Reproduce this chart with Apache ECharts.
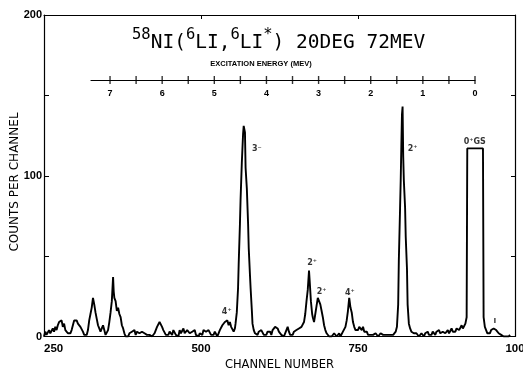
<!DOCTYPE html>
<html><head><meta charset="utf-8">
<script src="https://cdn.jsdelivr.net/npm/echarts@6/dist/echarts.min.js"></script>
<style>html,body{margin:0;padding:0;background:#fff}#c{width:523px;height:369px}</style>
</head><body><div id="c"></div><script>
// 58Ni(6Li,6Li*) spectrum: [channel, counts per channel]
const lowChannels = [
  [250,0],[252,3],[254,1],[256,2],[258,4],[260,2],[262,3],[264,5],[266,3],[268,6],[270,4],[272,7],[274,9],
  [276,8],[278,10],[280,6],[282,8],[284,4],[286,3],[288,2],[290,3],[292,2],[294,4],[296,7],[298,10],[300,11],
  [302,10],[304,8],[306,9],[308,6],[310,5],[312,3],[314,1],[316,0],[318,1],[320,4],[322,10],[324,14],[326,18],
  [328,24],[330,20],[332,15],[334,11],[336,7],[338,5],[340,3],[342,5],[344,7],[346,4],[348,1],[350,0],[352,4],
  [354,9],[356,15],[358,22],[360,37],[361,28],[362,24],[364,22],[366,16],[368,18],[370,14],[372,12],[374,7],
  [376,5],[378,2],[380,0],[382,1],[384,0],[386,2],[388,1],[390,3],[392,2],[394,4],[396,1],[398,3],[400,4],
  [402,2],[404,1],[406,3],[408,4],[410,2],[412,3],[414,1],[416,0],[418,1],[420,2],[422,0],[424,1],[426,2],
  [428,4],[430,6],[432,7],[434,9],[436,8],[438,6],[440,4],[442,3],[444,1],[446,0],[448,1],[450,3],[452,2],
  [454,1],[456,4],[458,3],[460,1],[462,2],[464,0],[466,4],[468,2],[470,3],[472,5],[474,2],[476,1],[478,4],
  [480,3],[482,2],[484,1],[486,3],[488,2],[490,4],[492,1],[494,2],[496,0],[498,2],[500,3],[502,1],[504,4],
  [506,5],[508,3],[510,2],[512,4],[514,3],[516,1],[518,2],[520,1],[522,3],[524,2],[526,0],[528,2],[530,4],
  [532,3],[534,7],[536,6],[538,9],[540,8],[542,10],[544,7],[546,9],[548,6],[550,5],[552,3],[554,5]
];
const peak3minus = [
  [555,8],[557,15],[559,30],[560,45],[562,70],[563,85],[565,108],[567,126],[568,131],[570,127],[571,105],
  [573,92],[575,70],[576,55],[578,38],[579,30],[581,16],[582,8],[584,4]
];
const midChannels = [
  [586,2],[588,3],[590,1],[592,3],[594,2],[596,4],[598,3],[600,1],[602,2],[604,1],[606,3],[608,2],[610,3],
  [612,1],[614,4],[616,5],[618,6],[620,7],[622,5],[624,3],[626,2],[628,1],[630,2],[632,0],[634,2],[636,4],
  [638,6],[640,3],[642,1],[644,2],[646,1],[648,3],[650,2],[652,4],[654,3],[656,5],[658,4],[660,6],[662,5],
  [664,9],[666,14],[668,22],[670,29],[672,41],[673,35],[675,22],[677,14],[678,12],[680,9],[682,14],[684,19],
  [686,24],[688,23],[690,20],[692,16],[694,12],[696,7],[698,4],[700,2],[702,1],[704,0],[706,1],[708,0],
  [710,1],[712,2],[714,1],[716,0],[718,1],[720,2],[722,0],[724,1],[726,3],[728,2],[730,6],[732,10],[734,16],
  [736,24],[737,21],[738,18],[740,15],[742,9],[744,6],[746,4],[748,3],[750,4],[752,6],[754,5],[756,4],
  [758,6],[760,3],[762,2],[764,3],[766,1],[768,0],[770,1],[772,0],[774,1],[776,0],[778,2],[780,1],[782,0],
  [784,1],[786,2],[788,1],[790,1],[792,0],[794,1],[796,0],[798,1],[800,0],[802,1],[804,0],[806,1],[808,2],
  [810,3]
];
const peak2plus = [
  [812,6],[814,20],[815,47],[817,80],[818,97],[819,118],[820,138],[821,143],[822,112],[823,97],[825,80],
  [826,62],[828,42],[829,20],[831,8],[833,5]
];
const highChannels = [
  [835,3],[837,4],[839,2],[841,1],[843,2],[845,1],[847,0],[849,1],[851,2],[853,1],[855,0],[857,2],[859,1],
  [861,3],[863,1],[865,2],[867,1],[869,3],[871,2],[873,1],[875,3],[877,2],[879,4],[881,2],[883,1],[885,3],
  [887,4],[889,2],[891,3],[893,4],[895,2],[897,3],[899,5],[901,3],[903,4],[905,3],[907,5],[909,6],[911,4],
  [913,5],[915,7],[917,5],[919,6],[921,8],[923,12]
];
const groundState = [[924,117],[949,117],[950,12]];
const tailChannels = [
  [952,6],[954,4],[956,2],[958,3],[960,2],[962,4],[964,3],[966,5],[968,6],[970,4],[972,5],[974,2],[976,3],
  [978,1],[980,2],[982,0],[984,1],[986,0],[988,1],[990,0],[992,1]
];

// state labels
const levelChannels = [589, 837, 936, 677, 692, 737, 541, 968];
const levelCounts   = [117, 117, 121, 46, 28, 27, 15, 10];
const levelTexts    = ['3\u207B', '2\u207A', '0\u207AGS', '2\u207A', '2\u207A', '4\u207A', '4\u207A', 'ı'];

// channel axis ticks
const xTickValues = [250, 500, 750, 1000];
const xTickLabels = ['250', '500', '750', '100'];

// excitation energy scale (MeV), tick every 0.5
const energyTicks = [0, 0.5, 1, 1.5, 2, 2.5, 3, 3.5, 4, 4.5, 5, 5.5, 6, 6.5, 7];
const energyMax = 7.365;

const spectrum = [].concat(lowChannels, peak3minus, midChannels, peak2plus, highChannels, groundState, tailChannels);

const black = '#000';
const chart = echarts.init(document.getElementById('c'), null, { renderer: 'canvas' });
chart.setOption({
  animation: false,
  backgroundColor: '#fff',
  title: {
    left: 127, top: 22,
    text: '{sup|58}{big|NI(}{sup|6}{big|LI,}{sup|6}{big|LI}{sup|*}{big|) 20DEG 72MEV}',
    textStyle: {
      fontWeight: 'normal',
      rich: {
        big: { fontFamily: 'DejaVu Sans Mono', fontSize: 19.5, fontWeight: 'normal', color: black, lineHeight: 32 },
        sup: { fontFamily: 'DejaVu Sans Mono', fontSize: 15.5, fontWeight: 'normal', color: black, lineHeight: 14, verticalAlign: 'top' }
      }
    }
  },
  graphic: [
    {
      type: 'text', x: 261, y: 64,
      style: { text: 'EXCITATION ENERGY (MEV)', fontFamily: 'Liberation Sans', fontWeight: 'bold', fontSize: 7.5,
               fill: black, align: 'center', verticalAlign: 'middle' }
    },
    {
      type: 'text', x: 15, y: 182, rotation: Math.PI / 2,
      style: { text: 'COUNTS PER CHANNEL', fontFamily: 'DejaVu Sans', fontSize: 12,
               fill: black, align: 'center', verticalAlign: 'middle' }
    }
  ],
  grid: [
    { left: 44, top: 15, width: 471, height: 321.5, outerBoundsMode: 'none', containLabel: false },
    { left: 91, top: 70, width: 384, height: 10, outerBoundsMode: 'none', containLabel: false }
  ],
  xAxis: [
    {
      gridIndex: 0, type: 'value', position: 'bottom', min: 250, max: 1000, interval: 250,
      axisLine: { onZero: false, lineStyle: { color: black, width: 1 } },
      axisTick: { show: false }, splitLine: { show: false },
      axisLabel: {
        formatter: v => { const i = xTickValues.indexOf(v); return i < 0 ? '' : xTickLabels[i]; },
        fontFamily: 'Liberation Sans', fontWeight: 'bold', fontSize: 11.5, color: black, margin: 6,
        alignMinLabel: 'left'
      },
      name: 'CHANNEL NUMBER', nameLocation: 'middle', nameGap: 20,
      nameTextStyle: { fontFamily: 'DejaVu Sans', fontSize: 11.5, color: black }
    },
    {
      gridIndex: 0, type: 'value', position: 'top', min: 250, max: 1000, interval: 250,
      axisLine: { onZero: false, lineStyle: { color: black, width: 1 } },
      axisTick: { inside: true, length: 4, lineStyle: { color: black } },
      axisLabel: { show: false }, splitLine: { show: false }
    },
    {
      gridIndex: 1, type: 'value', position: 'bottom', min: 0, max: energyMax, interval: 0.5, inverse: true,
      axisLine: { onZero: false, lineStyle: { color: black, width: 1.2 } },
      axisTick: { show: false }, splitLine: { show: false },
      axisLabel: {
        formatter: v => Number.isInteger(v) ? String(v) : '',
        fontFamily: 'Liberation Sans', fontWeight: 'bold', fontSize: 9, color: black, margin: 9
      }
    }
  ],
  yAxis: [
    {
      gridIndex: 0, type: 'value', position: 'left', min: 0, max: 200, interval: 50,
      axisLine: { onZero: false, lineStyle: { color: black, width: 1.2 } },
      axisTick: { inside: true, length: 5, lineStyle: { color: black } },
      splitLine: { show: false },
      axisLabel: {
        formatter: v => (v % 100 === 0 ? String(v) : ''),
        fontFamily: 'Liberation Sans', fontWeight: 'bold', fontSize: 11, color: black, margin: 2
      }
    },
    {
      gridIndex: 0, type: 'value', position: 'right', min: 0, max: 200, interval: 50,
      axisLine: { onZero: false, lineStyle: { color: black, width: 1.2 } },
      axisTick: { inside: true, length: 4, lineStyle: { color: black } },
      axisLabel: { show: false }, splitLine: { show: false }
    },
    { gridIndex: 1, type: 'value', min: 0, max: 1, show: false }
  ],
  series: [
    {
      type: 'line', xAxisIndex: 0, yAxisIndex: 0, data: spectrum,
      showSymbol: false, symbol: 'none',
      lineStyle: { color: black, width: 1.9 }, z: 3
    },
    {
      type: 'scatter', xAxisIndex: 2, yAxisIndex: 2,
      data: energyTicks.map(e => [e, 0]),
      symbol: 'rect', symbolSize: [1.4, 8], itemStyle: { color: black }, silent: true
    },
    {
      type: 'scatter', xAxisIndex: 0, yAxisIndex: 0,
      data: levelChannels.map((c, i) => ({ value: [c, levelCounts[i]], name: levelTexts[i] })),
      symbolSize: 0, silent: true,
      label: {
        show: true, position: 'inside', formatter: p => p.name,
        fontFamily: 'DejaVu Sans', fontWeight: 'bold', fontSize: 8, color: black
      }
    }
  ]
});
</script></body></html>
